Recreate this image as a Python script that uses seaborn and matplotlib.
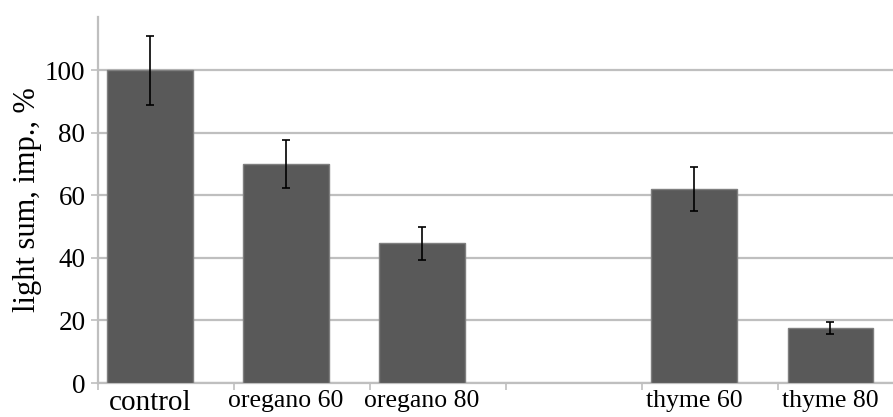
import matplotlib
matplotlib.use("Agg")
import matplotlib.pyplot as plt
import seaborn as sns
import pandas as pd
import numpy as np

categories = ["control", "oregano 60", "oregano 80", "thyme 60", "thyme 80"]
values = [100, 70, 44.7, 62, 17.6]
errors = [11, 7.7, 5.3, 7, 2]
order = ["control", "oregano 60", "oregano 80", " ", "thyme 60", "thyme 80"]

sns.set_theme(style="white")
plt.rcParams["font.family"] = ["Liberation Serif", "DejaVu Serif"]

df = pd.DataFrame({"cat": categories, "val": values})

fig = plt.figure(figsize=(8.93, 4.17), dpi=100)
ax = fig.add_axes([0.1097, 0.0815, 0.8903, 0.8775])

sns.barplot(data=df, x="cat", y="val", order=order, color="#595959",
            saturation=1, width=0.63, edgecolor="#7f7f7f", linewidth=1,
            errorbar=None, ax=ax, zorder=3)

err_map = dict(zip(categories, errors))
val_map = dict(zip(categories, values))
labels = [t.get_text() for t in ax.get_xticklabels()]
pos = ax.get_xticks()
for p, lab in zip(pos, labels):
    if lab in err_map:
        ax.errorbar(p, val_map[lab], yerr=err_map[lab], fmt="none",
                    ecolor="black", elinewidth=1.2, capsize=3, capthick=1.2, zorder=4)

ax.set_xlim(-0.382, 5.46)
ax.set_ylim(0, 117)
ax.set_yticks([0, 20, 40, 60, 80, 100])
ax.yaxis.grid(True, color="#bfbfbf", linewidth=1.6, zorder=0)
ax.set_axisbelow(True)

for s in ["top", "right"]:
    ax.spines[s].set_visible(False)
for s in ["left", "bottom"]:
    ax.spines[s].set_color("#bfbfbf")
    ax.spines[s].set_linewidth(1.6)

ax.tick_params(axis="y", which="major", direction="out", length=5, width=1.2,
               color="#bfbfbf", labelsize=19.5, pad=4, left=True, labelcolor="black")
ax.tick_params(axis="x", which="major", length=0, pad=5, labelcolor="black")
ax.set_xticks(np.arange(len(order)) - 0.382, minor=True)
ax.tick_params(axis="x", which="minor", direction="out", length=5, width=1.2,
               color="#bfbfbf", bottom=True)

for t in ax.get_xticklabels():
    t.set_fontsize(21 if t.get_text() == "control" else 18.5)
    t.set_verticalalignment("top")

ax.set_xlabel("")
ax.set_ylabel("light sum, imp., %", fontsize=22, color="black", labelpad=2)

fig.savefig("out.png", dpi=100)
